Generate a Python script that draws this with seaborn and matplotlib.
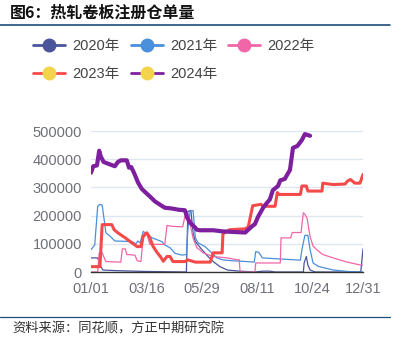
import matplotlib
matplotlib.use("Agg")
import pandas as pd
import seaborn as sns
import matplotlib.pyplot as plt
from matplotlib.lines import Line2D

# %% data (day index from 01/01, values in thousand tons)
d2020 = [0, 9, 12, 16, 32, 72, 128, 130, 134, 137, 140, 144, 149, 157, 164, 173, 183, 200, 220, 231,
         240, 247, 285, 286, 289, 291, 294, 301, 362, 365]
v2020 = [50, 50, 25, 7, 5, 2, 0, 215, 218, 139, 108, 95, 79, 55, 37, 19, 7, 3, 0, 3,
         3, 0, 0, 32, 55, 25, 7, 0, 0, 82]

d2021 = [0, 5, 9, 12, 15, 17, 20, 26, 32, 55, 60, 63, 66, 70, 75, 82, 95, 99, 106, 113,
         122, 128, 130, 133, 137, 140, 144, 153, 162, 169, 177, 189, 209, 219, 221, 225, 230, 281, 283, 287,
         291, 294, 298, 305, 325, 348, 365]
v2021 = [79, 96, 233, 240, 237, 198, 139, 126, 110, 108, 100, 110, 103, 144, 135, 121, 108, 96, 86, 66,
         60, 62, 150, 215, 218, 121, 103, 90, 68, 50, 43, 40, 37, 35, 72, 70, 50, 42, 79, 130,
         130, 79, 32, 20, 7, 1, 0]

d2022 = [0, 9, 11, 15, 17, 20, 40, 42, 46, 48, 59, 62, 67, 70, 72, 75, 79, 99, 102, 109,
         123, 126, 129, 133, 137, 142, 146, 150, 164, 183, 197, 199, 200, 220, 221, 254, 255, 268, 270, 282,
         283, 285, 287, 290, 294, 298, 303, 311, 325, 344, 361, 365]
v2022 = [0, 0, 68, 68, 55, 37, 35, 82, 82, 62, 60, 40, 37, 121, 139, 135, 98, 98, 165, 162,
         160, 198, 210, 170, 120, 86, 79, 68, 55, 50, 43, 43, 0, 0, 32, 32, 121, 121, 140, 140,
         168, 210, 205, 190, 125, 92, 79, 62, 50, 35, 25, 24]

d2023 = [0, 12, 15, 28, 31, 36, 46, 55, 62, 67, 70, 75, 79, 83, 89, 93, 97, 102, 106, 110,
         126, 130, 140, 160, 163, 164, 176, 177, 186, 207, 211, 217, 228, 231, 247, 250, 252, 281, 283, 289,
         291, 310, 311, 325, 341, 344, 348, 351, 354, 361, 365]
v2023 = [19, 19, 168, 168, 150, 139, 121, 103, 90, 90, 126, 139, 121, 92, 68, 55, 38, 55, 55, 37,
         37, 43, 35, 35, 60, 68, 68, 135, 150, 153, 160, 235, 240, 233, 233, 282, 275, 275, 305, 305,
         287, 287, 315, 310, 312, 322, 328, 322, 315, 315, 346]

d2024 = [0, 3, 8, 11, 13, 17, 25, 32, 36, 40, 48, 51, 54, 58, 63, 68, 74, 79, 86, 93,
         99, 109, 117, 126, 129, 133, 140, 142, 146, 164, 177, 191, 207, 211, 216, 220, 224, 231, 236, 240,
         244, 251, 254, 260, 267, 271, 277, 283, 287, 294]
v2024 = [352, 375, 378, 430, 410, 390, 382, 375, 390, 396, 396, 370, 372, 350, 318, 295, 280, 268, 250, 238,
         228, 225, 221, 219, 193, 175, 157, 150, 148, 148, 144, 142, 140, 150, 162, 170, 195, 228, 245, 257,
         290, 305, 325, 330, 362, 440, 447, 468, 489, 483]

years = ["2020年", "2021年", "2022年", "2023年", "2024年"]
days = [d2020, d2021, d2022, d2023, d2024]
vals = [v2020, v2021, v2022, v2023, v2024]

xtick_pos = [0, 75, 149, 223, 297, 365]
xtick_labels = ["01/01", "03/16", "05/29", "08/11", "10/24", "12/31"]
ytick_vals = [0, 100000, 200000, 300000, 400000, 500000]

line_colors = ["#4b559b", "#4a8fdc", "#f066a8", "#f54a4a", "#7e1fa0"]
dot_colors = ["#4b559b", "#4a8fdc", "#f066a8", "#f5d44d", "#f5d44d"]
widths = [0.9, 0.9, 0.9, 2.2, 3.0]

# %%
sns.set_style("white")
plt.rcParams["font.family"] = ["Liberation Sans", "Noto Sans CJK SC", "DejaVu Sans"]

W, H = 401, 354
fig = plt.figure(figsize=(W / 100, H / 100), dpi=100)
ax = fig.add_axes([91 / W, (H - 272) / H, 272 / W, 141 / H])

for yr, d, v, c, lw in zip(years, days, vals, line_colors, widths):
    df = pd.DataFrame({"day": d, "value": [x * 1000 for x in v]})
    sns.lineplot(data=df, x="day", y="value", color=c, linewidth=lw, estimator=None,
                 sort=False, ax=ax, legend=False)

ax.set_xlim(0, 365)
ax.set_ylim(0, 500000)
ax.set_xticks(xtick_pos)
ax.set_xticklabels(xtick_labels)
ax.set_yticks(ytick_vals)
ax.set_yticklabels([str(v) for v in ytick_vals])
ax.set_xlabel("")
ax.set_ylabel("")
ax.yaxis.grid(True, color="#e0e6f1", linewidth=1)
ax.set_axisbelow(True)
for s in ["top", "right", "left"]:
    ax.spines[s].set_visible(False)
ax.spines["bottom"].set_color("#333333")
ax.spines["bottom"].set_linewidth(1)
ax.tick_params(axis="x", length=4.5, width=1, color="#333333", pad=3, labelsize=10.5, labelcolor="#6e7079")
ax.tick_params(axis="y", length=0, pad=6.5, labelsize=10.5, labelcolor="#6e7079")

# legend, row-major order (matplotlib fills legend columns first)
handles = [Line2D([], [], color=c, lw=2, marker="o", markersize=9, markerfacecolor=m, markeredgecolor=m)
           for c, m in zip(line_colors, dot_colors)]
order = [0, 3, 1, 4, 2]
fig.legend([handles[i] for i in order], [years[i] for i in order], loc="upper left",
           bbox_to_anchor=(33 / W, 1 - 39 / H), ncol=3, frameon=False,
           fontsize=10.5, labelcolor="#444444", handlelength=2.2, handletextpad=0.5,
           columnspacing=0.75, labelspacing=0.95, borderpad=0, borderaxespad=0)

# title and source
fig.text(10 / W, 1 - 13 / H, "图6：热轧卷板注册仓单量", fontsize=11.5, fontweight="bold",
         family=["Noto Sans CJK SC"], va="center", ha="left", color="#111111")
fig.add_artist(Line2D([0, 390 / W], [1 - 25 / H] * 2, color="#1f4e79", lw=1.2))
fig.add_artist(Line2D([0, 390 / W], [1 - 317 / H] * 2, color="#1f4e79", lw=0.9))
fig.text(12 / W, 1 - 329 / H, "资料来源：同花顺，方正中期研究院", fontsize=9.5, style="italic",
         family=["Noto Sans CJK SC"], va="center", ha="left", color="#333333")

plt.savefig("out.png", dpi=100)
